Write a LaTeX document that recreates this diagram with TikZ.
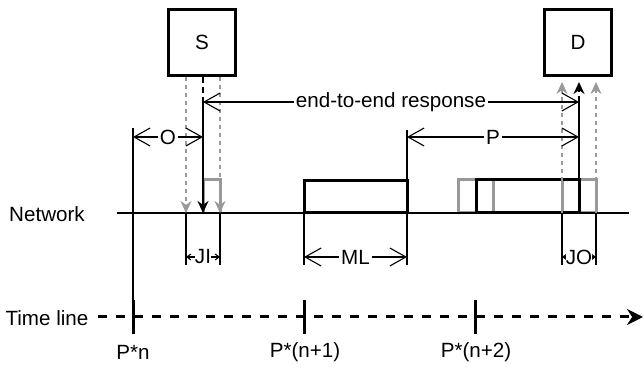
\documentclass[tikz,border=0pt]{standalone}
\usepackage{fontspec}
\setmainfont{Liberation Sans}
\usetikzlibrary{arrows.meta, positioning, calc}
\tikzset{
  station/.style={draw, line width=1.5pt, minimum width=33.5pt, minimum height=33pt, inner sep=0pt},
  pulse/.style={line width=1.5pt},
  ghostpulse/.style={line width=1.5pt, gray!80},
  wire/.style={line width=1pt},
  guide/.style={line width=0.55pt},
  dimarrow/.style={line width=0.55pt, {Straight Barb[length=8pt,width=9pt]}-{Straight Barb[length=8pt,width=9pt]}},
  jitarrow/.style={line width=0.55pt, {Straight Barb[length=2pt,width=3pt]}-{Straight Barb[length=2pt,width=3pt]}},
  ghost/.style={gray!80, line width=0.6pt, dash pattern=on 2pt off 2pt, -{Stealth[length=6pt,width=5.5pt]}},
  packet/.style={line width=0.9pt},
  tag/.style={fill=white, inner sep=1pt},
  timeline/.style={line width=1.5pt, dash pattern=on 4.5pt off 4.5pt, -{Stealth[length=8pt,width=8pt]}},
  tick/.style={line width=1.5pt},
  every node/.style={font=\fontsize{10.3}{12}\selectfont}
}
\begin{document}
\begin{tikzpicture}[x=0.5pt,y=-0.5pt]
    \useasboundingbox (0,0) rectangle (644,368);
    \node[station] (S) at (202,42.5) {S};
    \node[station] (D) at (578,42.5) {D};
    \node (net) at (47,214) {Network};
    \node (time) at (47,318) {Time line};
    \coordinate (netL) at (117,213);
    \coordinate (netR) at (629,213);
    \coordinate (ji1) at (186,213);
    \coordinate (send) at (203,213);
    \coordinate (ji2) at (220,213);
    \coordinate (ml1) at (304,213);
    \coordinate (ml2) at (407,213);
    \coordinate (jo1) at (562,213);
    \coordinate (recv) at (579,213);
    \coordinate (jo2) at (596,213);
    \coordinate (oL) at (133,137);
    \coordinate (oR) at (203,137);
    \coordinate (pL) at (407,137);
    \coordinate (pR) at (579,137);
    \coordinate (eL) at (203,102);
    \coordinate (eR) at (579,102);
    \coordinate (tStart) at (98,317);
    \coordinate (tEnd) at (643,317);
    \coordinate (t0) at (133,317);
    \coordinate (t1) at (304,317);
    \coordinate (t2) at (475,317);
    \node (l0) at (133,352) {P*n};
    \node (l1) at (305,352) {P*(n+1)};
    \node (l2) at (476,352) {P*(n+2)};

    \draw[ghostpulse] (send) -- ++(0,-33) -| (ji2);
    \draw[ghostpulse] (458,213) rectangle (493,180);
    \draw[ghostpulse] (jo1) rectangle (596,180);
    \draw[pulse] (ml1) rectangle (407,181);
    \draw[pulse] (476,213) rectangle (579,180);
    \draw[wire] (netL) -- (netR);

    \draw[timeline] (tStart) -- (tEnd);
    \foreach \t in {t0,t1,t2}
        \draw[tick] ($(\t)+(0,-17)$) -- ($(\t)+(0,17)$);
    \draw[guide] (133,128) -- (t0);
    \foreach \c in {ji1,ji2,ml1,ml2,jo1,jo2}
        \draw[guide] (\c) -- ++(0,52);
    \draw[guide] (ml2) -- (407,130);

    \draw[ghost] (S.south -| ji1) -- (ji1);
    \draw[ghost] (S.south -| ji2) -- (ji2);
    \draw[packet, dash pattern=on 3pt off 2pt] (S.south -| send) -- (eL);
    \draw[packet, -{Stealth[length=6pt,width=5.5pt]}] (eL) -- (send);
    \draw[ghost] (jo1) -- ([yshift=-2.5pt]jo1 |- D.south);
    \draw[ghost] (jo2) -- ([yshift=-2.5pt]jo2 |- D.south);
    \draw[packet] (recv) -- (eR);
    \draw[packet, dash pattern=on 3pt off 2pt, -{Stealth[length=6pt,width=5.5pt]}] (eR) -- ([yshift=-2.5pt]recv |- D.south);

    \draw[dimarrow] (oL) -- node[tag] {O} (oR);
    \draw[dimarrow] (eL) -- node[tag] {end-to-end response} (eR);
    \draw[dimarrow] (pL) -- node[tag] {P} (pR);
    \draw[jitarrow] ($(ji1)+(0,44)$) -- node[tag, inner sep=0pt] {JI} ($(ji2)+(0,44)$);
    \draw[dimarrow] ($(ml1)+(0,44)$) -- node[tag] {ML} ($(ml2)+(0,44)$);
    \draw[jitarrow] ($(jo1)+(0,44)$) -- node[tag, inner sep=0pt] {JO} ($(jo2)+(0,44)$);
\end{tikzpicture}
\end{document}
